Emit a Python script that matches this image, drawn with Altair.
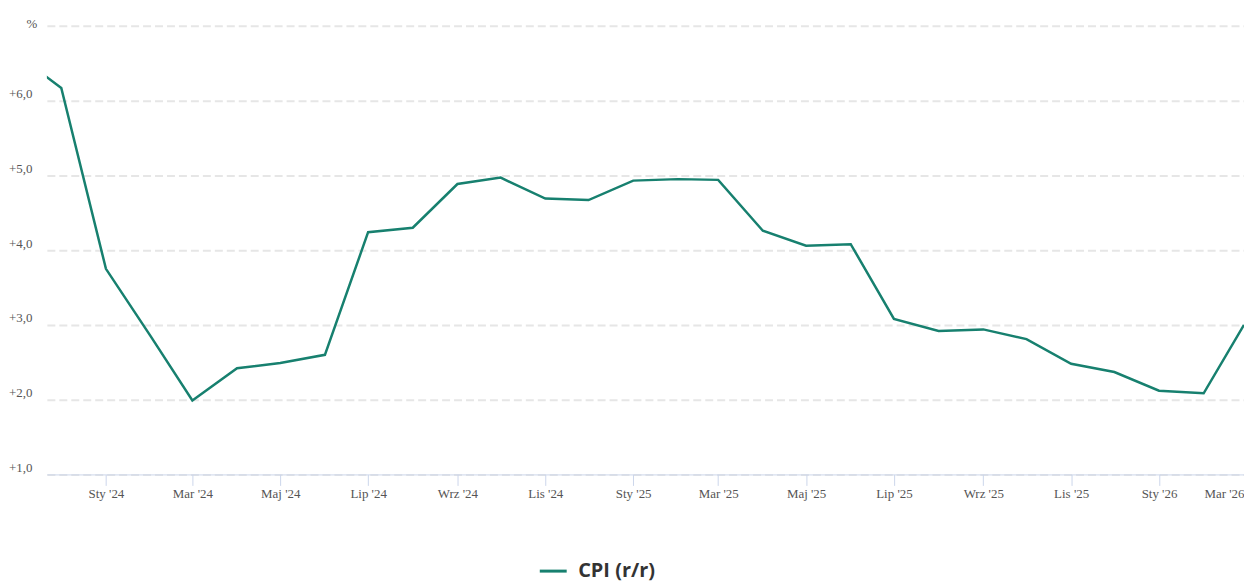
import altair as alt
import pandas as pd

# --- data ---
months = ["2023-11", "2023-12",
          "2024-01", "2024-02", "2024-03", "2024-04", "2024-05", "2024-06",
          "2024-07", "2024-08", "2024-09", "2024-10", "2024-11", "2024-12",
          "2025-01", "2025-02", "2025-03", "2025-04", "2025-05", "2025-06",
          "2025-07", "2025-08", "2025-09", "2025-10", "2025-11", "2025-12",
          "2026-01", "2026-02", "2026-03"]
cpi = [6.6, 6.17,
       3.75, 2.85, 1.99, 2.42, 2.49, 2.60,
       4.24, 4.30, 4.885, 4.97, 4.69, 4.67,
       4.93, 4.95, 4.94, 4.26, 4.06, 4.08,
       3.08, 2.92, 2.94, 2.81, 2.48, 2.37,
       2.12, 2.085, 3.0]
series_name = "CPI (r/r)"
month_names = ["Sty", "Lut", "Mar", "Kwi", "Maj", "Cze", "Lip", "Sie", "Wrz", "Paź", "Lis", "Gru"]
tick_months = ["2024-01", "2024-03", "2024-05", "2024-07", "2024-09", "2024-11",
               "2025-01", "2025-03", "2025-05", "2025-07", "2025-09", "2025-11",
               "2026-01", "2026-03"]
y_ticks = [1, 2, 3, 4, 5, 6, 7]
x_domain = [(2023, 11, 21), (2026, 3, 1)]

df = pd.DataFrame({
    "date": [m + "-01T00:00:00" for m in months],
    "value": cpi,
    "series": [series_name] * len(months),
})

tick_values = [alt.DateTime(year=int(m[:4]), month=int(m[5:]), date=1) for m in tick_months]
names_js = "[" + ",".join("'" + n + "'" for n in month_names) + "]"
x_label_expr = names_js + "[month(datum.value)] + \" '\" + timeFormat(datum.value, '%y')"
y_label_expr = "datum.value == 7 ? '' : '+' + replace(format(datum.value, '.1f'), '.', ',')"

label_font = "Liberation Serif"
grey = "#555555"

chart = alt.Chart(df).mark_line(clip=True, strokeWidth=2.5).encode(
    x=alt.X(
        "date:T",
        scale=alt.Scale(domain=[alt.DateTime(year=y, month=m, date=d) for (y, m, d) in x_domain]),
        axis=alt.Axis(
            title=None, values=tick_values, labelExpr=x_label_expr,
            grid=False, domainColor="#ccd6eb", domainWidth=1,
            tickColor="#ccd6eb", tickSize=11, tickWidth=1,
            labelFont=label_font, labelFontSize=13, labelColor=grey,
            labelPadding=2, labelFlush=True, labelOverlap=False,
        ),
    ),
    y=alt.Y(
        "value:Q",
        scale=alt.Scale(domain=[1, 7], nice=False, zero=False),
        axis=alt.Axis(
            values=y_ticks, labelExpr=y_label_expr,
            title="%", titleAngle=0, titleX=-10, titleY=2, titleAlign="right",
            titleBaseline="alphabetic", titleFont=label_font, titleFontSize=13,
            titleFontWeight="normal", titleColor=grey,
            domain=False, ticks=False,
            grid=True, gridColor="#e6e6e6", gridDash=[8, 4], gridWidth=2,
            labelFont=label_font, labelFontSize=13, labelColor=grey,
            labelPadding=15, labelBaseline="alphabetic", labelOffset=-3,
        ),
    ),
    color=alt.Color(
        "series:N",
        scale=alt.Scale(range=["#17806f"]),
        legend=alt.Legend(
            title=None, orient="none", legendX=493, legendY=532,
            symbolType="stroke", symbolSize=729, symbolStrokeWidth=3,
            labelFont="Open Sans", labelFontSize=20, labelFontWeight="bold",
            labelColor="#333333", labelOffset=10, padding=0,
        ),
    ),
).properties(
    width=1201,
    height=450,
    autosize=alt.AutoSizeParams(type="none"),
    padding={"left": 39, "top": 17, "right": 0, "bottom": 108},
).configure_view(stroke=None)

chart.save("out.html", embed_options={"renderer": "svg", "actions": False})
